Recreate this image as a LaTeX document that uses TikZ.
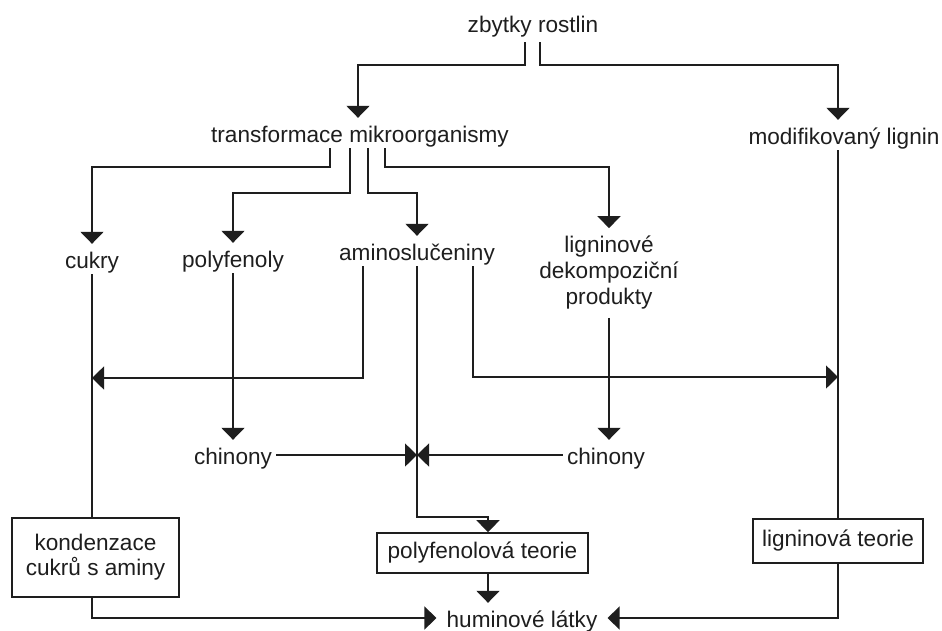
\documentclass[tikz,border=0pt]{standalone}
\usepackage{fontspec}
\setmainfont{Liberation Sans}
\usetikzlibrary{arrows.meta}
\definecolor{ink}{HTML}{1E1E1E}
\begin{document}
\begin{tikzpicture}[x=1pt,y=-1pt,
  lbl/.style={font=\fontsize{22.6}{26}\selectfont, text=ink, inner xsep=4pt, inner ysep=0pt, text height=24pt, text depth=6pt, anchor=base},
  ml/.style={font=\fontsize{22.6}{26}\selectfont, text=ink, align=center, inner xsep=4pt, inner ysep=8pt},
  boxn/.style={draw=ink, line width=1.6pt, font=\fontsize{22.6}{25}\selectfont, text=ink, align=center, inner sep=0pt},
  conn/.style={draw=ink, line width=1.6pt},
  arr/.style={conn, -{Triangle[width=23pt,length=12pt]}},
]
\fill[white] (0,0) rectangle (942,630);
\useasboundingbox (0,0) rectangle (942,630);

% labels
\node[lbl, inner ysep=4pt] (zb) at (533,32) {zbytky rostlin};
\node[lbl] (trans) at (360,142) {transformace mikroorganismy};
\node[lbl] (modif) at (844,144) {modifikovaný lignin};
\node[lbl] (cukry) at (92,268) {cukry};
\node[lbl] (polyf) at (233,267) {polyfenoly};
\node[lbl] (amino) at (417,260) {aminoslučeniny};
\node[ml] (ligdek) at (609,273) {ligninové\\dekompoziční\\produkty};
\node[lbl] (chinL) at (233,464) {chinony};
\node[lbl] (chinR) at (606,464) {chinony};
\node[lbl, inner xsep=10pt] (hum) at (522,627) {huminové látky};

% boxes
\node[boxn, minimum width=167pt, minimum height=79pt] (kond) at (95.5,557.5) {kondenzace\\cukrů s aminy};
\node[boxn, minimum width=211pt, minimum height=40pt] (polyt) at (482.5,553) {polyfenolová teorie};
\node[boxn, minimum width=170pt, minimum height=44pt] (ligt) at (838,541) {ligninová teorie};

% connectors
\draw[arr] ([xshift=-8pt]zb.south) -- ++(0,23) -| ([xshift=-2pt]trans.north);
\draw[arr] ([xshift=7pt]zb.south) -- ++(0,23) -| (modif.north -| ligt.north);
\draw[arr] ([xshift=-30pt]trans.south) -- ++(0,19) -| (cukry.north);
\draw[arr] ([xshift=-10pt]trans.south) -- ++(0,45) -| (polyf.north);
\draw[arr] ([xshift=8pt]trans.south) -- ++(0,45) -| (amino.north);
\draw[arr] ([xshift=25pt]trans.south) -- ++(0,19) -| (ligdek.north);
\draw[arr] ([xshift=-54pt]amino.south) |- (cukry.south |- 0,378);
\draw[arr] ([xshift=56pt]amino.south) |- (ligt.north |- 0,377);
\draw[arr] (polyf.south) -- (chinL.north);
\draw[arr] (ligdek.south) -- (ligdek.south |- chinR.north);
\draw[arr] (chinL.east) -- (chinL.east -| amino.south);
\draw[arr] (chinR.west) -- (chinR.west -| amino.south);
\draw[arr] (amino.south) -- (amino.south |- 0,517) -| ([xshift=5.5pt]polyt.north);
\draw[conn] (cukry.south) -- (cukry.south |- kond.north);
\draw[arr] (kond.south -| cukry.south) |- (hum.west);
\draw[arr] ([xshift=5.5pt]polyt.south) -- ([xshift=5.5pt]polyt.south |- hum.north);
\draw[conn] (modif.south -| ligt.north) -- (ligt.north);
\draw[arr] (ligt.south) |- (hum.east);
\end{tikzpicture}
\end{document}
